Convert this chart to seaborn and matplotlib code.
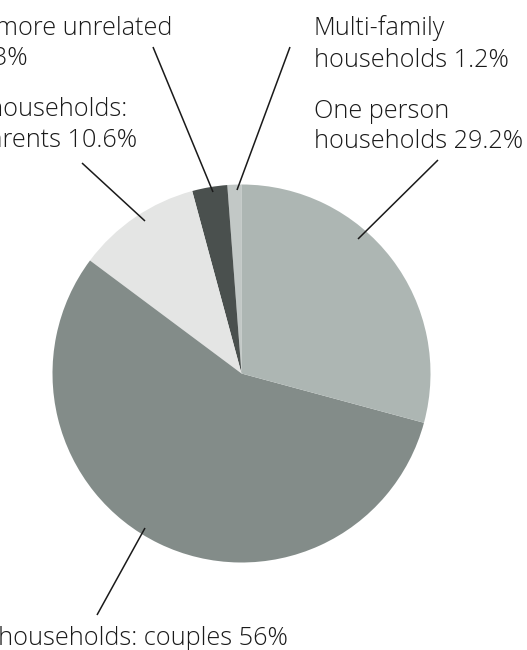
import matplotlib
matplotlib.use("Agg")
import matplotlib.pyplot as plt
import seaborn as sns

# Data (counter-clockwise from 12 o'clock)
categories = ["Multi-family households", "Two or more unrelated people",
              "Family households: lone parents", "Family households: couples",
              "One person households"]
shares = [1.2, 3.0, 10.6, 56.0, 29.2]
colors = ["#c2c8c6", "#4a504e", "#e4e5e4", "#838c89", "#adb6b3"]

# Label text lines (as printed; left parts are cropped off the page)
label_unrelated = ["Two or more unrelated", "people 3%"]
label_lone = ["Family households:", "lone parents 10.6%"]
label_couples = ["Family households: couples 56%"]
label_multi = ["Multi-family", "households 1.2%"]
label_one = ["One person", "households 29.2%"]

sns.set_theme(style="white")
plt.rcParams["font.family"] = ["Open Sans", "DejaVu Sans"]

W, H = 527, 650
fig = plt.figure(figsize=(W / 100, H / 100), dpi=100)
ax = fig.add_axes([0, 0, 1, 1])

def Y(y):
    return H - y

cx, cy, r = 241.5, 373.5, 189
ax.pie(shares, colors=colors, startangle=90, counterclock=True,
       center=(cx, Y(cy)), radius=r, frame=True,
       wedgeprops=dict(linewidth=0))
ax.set_xlim(0, W)
ax.set_ylim(0, H)
ax.set_aspect("equal")
ax.axis("off")

fs = 18.2
tc = "#1a1a1a"
fw = "light"

def lines_left(x, ys, texts):
    for y, t in zip(ys, texts):
        ax.text(x, Y(y), t, ha="left", va="baseline", fontsize=fs,
                color=tc, fontweight=fw)

def lines_right(xs, ys, texts):
    for x, y, t in zip(xs, ys, texts):
        ax.text(x, Y(y), t, ha="right", va="baseline", fontsize=fs,
                color=tc, fontweight=fw)

lines_right([172, 28], [35, 65], label_unrelated)
lines_right([127, 137], [116, 147], label_lone)
lines_right([288], [645], label_couples)
lines_left(314, [35, 67], label_multi)
lines_left(314, [118, 148], label_one)

def leader(p, q):
    ax.plot([p[0], q[0]], [Y(p[1]), Y(q[1])], color="#1a1a1a", lw=1.1,
            solid_capstyle="butt")

leader((153, 47), (213, 192))
leader((290, 47), (237, 190))
leader((82, 163), (145, 221))
leader((438, 160), (358, 239))
leader((145, 528), (97, 615))

fig.savefig("out.png", dpi=100)
